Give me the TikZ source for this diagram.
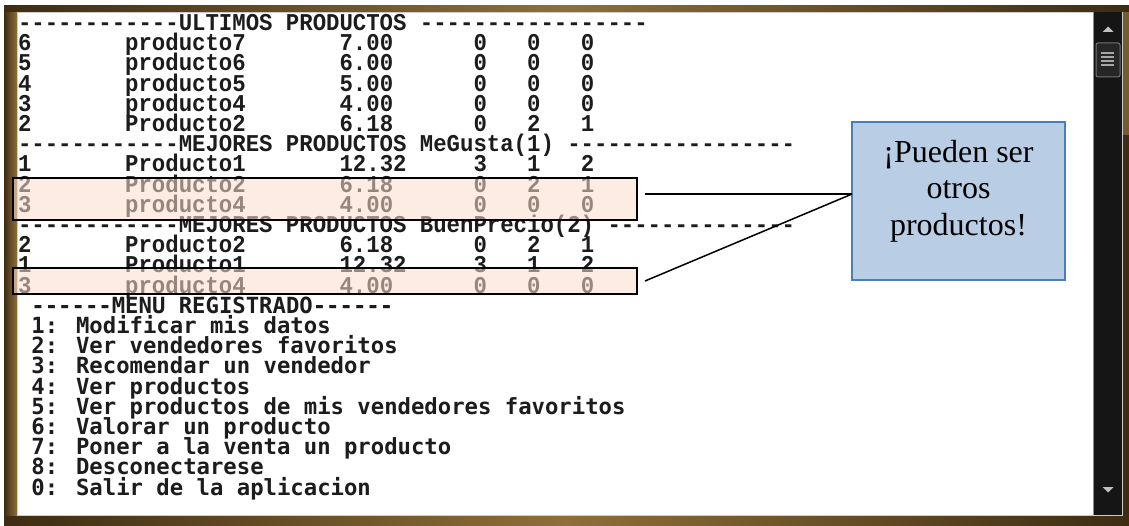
\documentclass[tikz,border=0pt]{standalone}
\usepackage{fontspec}
\usepackage{graphicx}
\newfontfamily\topfont{Liberation Mono}
\newfontfamily\menufont{DejaVu Sans Mono}
\newfontfamily\callfont{Liberation Serif}
\usetikzlibrary{calc}
\definecolor{framedark}{HTML}{3E2C12}
\definecolor{framegold}{HTML}{8F6F38}
\definecolor{consoletext}{HTML}{1C1C1C}
\definecolor{hlfill}{HTML}{FBDECC}
\definecolor{callfill}{HTML}{B9CDE5}
\definecolor{callborder}{HTML}{4A7EBB}
\definecolor{scrollbg}{HTML}{151515}
\newlength\cw
\setlength\cw{13.4pt}
\newcommand\tall[1]{\scalebox{1}[1.08]{#1}}
\newcommand\prow[6]{\makebox[8\cw][l]{#1}\makebox[16\cw][l]{#2}\makebox[10\cw][l]{#3}\makebox[4\cw][l]{#4}\makebox[4\cw][l]{#5}#6}
\begin{document}
\begin{tikzpicture}[x=1pt,y=-1pt,
  toprow/.style={anchor=base west, inner sep=0pt, outer sep=0pt, text height=14pt, text depth=3pt, text=consoletext, font=\topfont\fontsize{22.33pt}{24pt}\selectfont\bfseries},
  menurow/.style={anchor=base west, inner sep=0pt, outer sep=0pt, text height=14pt, text depth=3pt, text=consoletext, font=\menufont\fontsize{22.26pt}{24pt}\selectfont\bfseries},
  hl/.style={anchor=north west, inner sep=0pt, outer sep=0pt, fill=hlfill, fill opacity=0.55, draw=black, draw opacity=1, line width=1.6pt, minimum width=624pt},
  callbox/.style={anchor=north west, inner sep=0pt, outer sep=0pt, fill=callfill, draw=callborder, line width=2pt, minimum width=213pt, minimum height=158pt},
  calltxt/.style={anchor=base, inner sep=0pt, text=black, font=\callfont\fontsize{32pt}{36pt}\selectfont},
  conn/.style={draw=black, line width=1.5pt}]
\useasboundingbox (0,0) rectangle (1129,526);
% window frame
\fill[white] (0,0) rectangle (1129,526);
\fill[framedark] (4,6) rectangle (1129,526);
\shade[left color=framedark, right color=framedark, middle color=framegold] (4,6) rectangle (1129,12.5);
\shade[left color=framedark, right color=framedark, middle color=framegold] (4,515) rectangle (1129,526);
\shade[left color=framedark, right color=framegold] (4,12.5) rectangle (17,515);
\fill[framegold!70!framedark] (1122,12.5) rectangle (1129,135);
\fill[white] (17,12.5) rectangle (1093,515);
\draw[black!20, line width=0.8pt] (17,12.5) rectangle (1122,515);
% console text
\node[toprow] (l0) at (18,30.5) {\tall{------------ULTIMOS PRODUCTOS -----------------}};
\node[toprow] (l1) at (18,50.7) {\tall{\prow{6}{producto7}{7.00}{0}{0}{0}}};
\node[toprow] (l2) at (18,70.9) {\tall{\prow{5}{producto6}{6.00}{0}{0}{0}}};
\node[toprow] (l3) at (18,91.1) {\tall{\prow{4}{producto5}{5.00}{0}{0}{0}}};
\node[toprow] (l4) at (18,111.3) {\tall{\prow{3}{producto4}{4.00}{0}{0}{0}}};
\node[toprow] (l5) at (18,131.5) {\tall{\prow{2}{Producto2}{6.18}{0}{2}{1}}};
\node[toprow] (l6) at (18,151.7) {\tall{------------MEJORES PRODUCTOS MeGusta(1) -----------------}};
\node[toprow] (l7) at (18,171.9) {\tall{\prow{1}{Producto1}{12.32}{3}{1}{2}}};
\node[toprow] (l8) at (18,192.1) {\tall{\prow{2}{Producto2}{6.18}{0}{2}{1}}};
\node[toprow] (l9) at (18,212.3) {\tall{\prow{3}{producto4}{4.00}{0}{0}{0}}};
\node[toprow] (l10) at (18,232.5) {\tall{------------MEJORES PRODUCTOS BuenPrecio(2) --------------}};
\node[toprow] (l11) at (18,252.7) {\tall{\prow{2}{Producto2}{6.18}{0}{2}{1}}};
\node[toprow] (l12) at (18,272.9) {\tall{\prow{1}{Producto1}{12.32}{3}{1}{2}}};
\node[toprow] (l13) at (18,293.1) {\tall{\prow{3}{producto4}{4.00}{0}{0}{0}}};
\node[menurow] (l14) at (31.4,313.3) {------MENU REGISTRADO------};
\node[menurow] (l15) at (31.4,333.5) {1: Modificar mis datos};
\node[menurow] (l16) at (31.4,353.7) {2: Ver vendedores favoritos};
\node[menurow] (l17) at (31.4,373.9) {3: Recomendar un vendedor};
\node[menurow] (l18) at (31.4,394.1) {4: Ver productos};
\node[menurow] (l19) at (31.4,414.3) {5: Ver productos de mis vendedores favoritos};
\node[menurow] (l20) at (31.4,434.5) {6: Valorar un producto};
\node[menurow] (l21) at (31.4,454.7) {7: Poner a la venta un producto};
\node[menurow] (l22) at (31.4,474.9) {8: Desconectarese};
\node[menurow] (l23) at (31.4,495.1) {0: Salir de la aplicacion};
% highlight boxes
\node[hl, minimum height=42pt] (r1) at (13,178) {};
\node[hl, minimum height=26pt] (r2) at (13,268) {};
% callout
\node[callbox] (callout) at (852,122) {};
\coordinate (tip) at ($(callout.north west)!0.456!(callout.south west)$);
\coordinate (e1) at ([xshift=8pt]r1.east |- tip);
\coordinate (e2) at ([xshift=8pt]r2.east);
\draw[conn] (tip) -- (e1);
\draw[conn] (tip) -- (e2);
\node[calltxt] (ct1) at (958.5,162.5) {¡Pueden ser};
\node[calltxt] (ct2) at (958.5,199) {otros};
\node[calltxt] (ct3) at (958.5,235.5) {productos!};
% scrollbar
\fill[scrollbg] (1093,12.5) rectangle (1122,515);
\draw[black!45, line width=0.8pt] (1093,12.5) -- (1093,515);
\fill[black!25] (1102.5,32) -- (1113.5,32) -- (1108,26.5) -- cycle;
\fill[black!25] (1102.5,487) -- (1113.5,487) -- (1108,492.5) -- cycle;
\draw[fill=black!85, draw=black!55, rounded corners=2pt, line width=1pt] (1096,43) rectangle (1120,77);
\foreach \yy in {53,57,61,65} \draw[black!35, line width=1.6pt] (1101,\yy) -- (1114,\yy);
\end{tikzpicture}
\end{document}
